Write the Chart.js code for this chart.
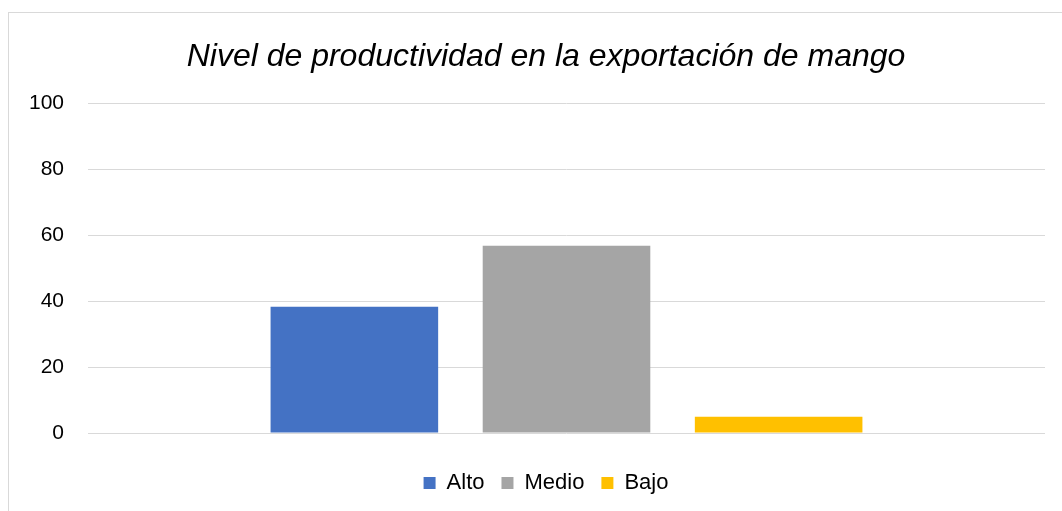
<!DOCTYPE html>
<html>
<head>
<meta charset="utf-8">
<script src="https://cdn.jsdelivr.net/npm/chart.js@4/dist/chart.umd.min.js"></script>
<style>
  html, body { margin: 0; padding: 0; background: #fff; overflow: hidden; }
  #box {
    position: absolute; left: 8px; top: 12px;
    width: 1076px; height: 505px;
    border: 1px solid #d9d9d9;
  }
</style>
</head>
<body>
<div id="box"><canvas id="myChart"></canvas></div>
<script>
var titleText = "Nivel de productividad en la exportación de mango";
var categories = [""];
var seriesNames = ["Alto", "Medio", "Bajo"];
var seriesValues = [[38.3], [56.8], [4.9]];
var seriesColors = ["#4472c4", "#a5a5a5", "#ffc000"];
var yTicks = [0, 20, 40, 60, 80, 100];

var datasets = seriesNames.map(function (name, i) {
  return {
    label: name,
    data: seriesValues[i],
    backgroundColor: seriesColors[i],
    borderWidth: 0,
    categoryPercentage: 0.665,
    barPercentage: 0.79
  };
});

// title and legend are centred on the whole chart box, not only the plot
var centerBoxes = {
  id: "centerBoxes",
  afterLayout: function (chart) {
    [chart.titleBlock, chart.legend].forEach(function (b) {
      if (b) { b.left += 19; b.right += 19; }
    });
  }
};

var ctx = document.getElementById("myChart");
var myChart = new Chart(ctx, {
  type: "bar",
  data: { labels: categories, datasets: datasets },
  plugins: [centerBoxes],
  options: {
    responsive: true,
    maintainAspectRatio: false,
    animation: false,
    layout: { padding: { left: 0, right: 40, top: 0, bottom: 14 } },
    plugins: {
      title: {
        display: true,
        text: titleText,
        color: "#000",
        font: { family: "Liberation Sans", size: 32, style: "italic", weight: "normal" },
        padding: { top: 25, bottom: 27 }
      },
      legend: {
        position: "bottom",
        labels: {
          color: "#000",
          font: { family: "Liberation Sans", size: 22 },
          boxWidth: 12,
          boxHeight: 12,
          padding: 17
        }
      },
      tooltip: { enabled: false }
    },
    scales: {
      x: {
        grid: { display: false },
        border: { display: false },
        ticks: { display: false },
        afterFit: function (axis) { axis.height = 22; }
      },
      y: {
        min: 0,
        max: 100,
        afterBuildTicks: function (axis) {
          axis.ticks = yTicks.map(function (v) { return { value: v }; });
        },
        afterFit: function (axis) { axis.width = 79; },
        grid: { color: "#d9d9d9", lineWidth: 1, drawTicks: false },
        border: { display: false },
        ticks: {
          color: "#000",
          padding: 24,
          font: { family: "Liberation Sans", size: 21 }
        }
      }
    }
  }
});
</script>
</body>
</html>
